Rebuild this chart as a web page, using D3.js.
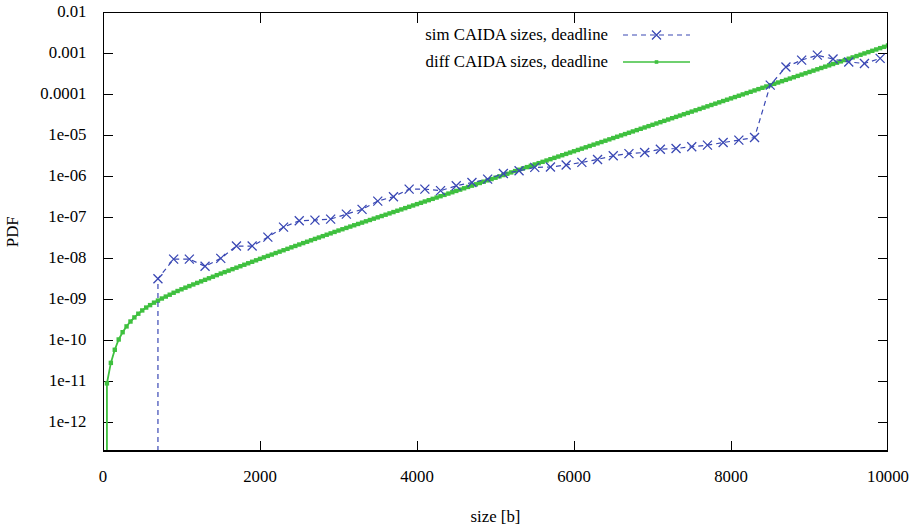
<!DOCTYPE html>
<html>
<head>
<meta charset="utf-8">
<script src="https://cdn.jsdelivr.net/npm/d3@7"></script>
<style>
  html, body { margin: 0; padding: 0; background: #fff; }
  svg { display: block; font-family: "Liberation Serif", "Times New Roman", serif; }
</style>
</head>
<body>
<svg id="chart" width="914" height="528"></svg>
<script>
// ---- data ----
const xTicks = [0, 2000, 4000, 6000, 8000, 10000];
const yTicks = [1e-2, 1e-3, 1e-4, 1e-5, 1e-6, 1e-7, 1e-8, 1e-9, 1e-10, 1e-11, 1e-12];
const yTickLabels = ["0.01", "0.001", "0.0001", "1e-05", "1e-06", "1e-07", "1e-08", "1e-09", "1e-10", "1e-11", "1e-12"];
const seriesNames = ["sim CAIDA sizes, deadline", "diff CAIDA sizes, deadline"];

const simX = [700, 900, 1100, 1300, 1500, 1700, 1900, 2100, 2300, 2500, 2700, 2900, 3100, 3300, 3500, 3700,
  3900, 4100, 4300, 4500, 4700, 4900, 5100, 5300, 5500, 5700, 5900, 6100, 6300, 6500, 6700, 6900, 7100,
  7300, 7500, 7700, 7900, 8100, 8300, 8500, 8700, 8900, 9100, 9300, 9500, 9700, 9900];
const simY = [3.2e-9, 9.6e-9, 9.6e-9, 6.4e-9, 1.0e-8, 2.0e-8, 2.0e-8, 3.3e-8, 5.8e-8, 8.3e-8, 8.6e-8, 9.1e-8,
  1.2e-7, 1.57e-7, 2.5e-7, 3.2e-7, 4.9e-7, 4.9e-7, 4.5e-7, 5.9e-7, 7.1e-7, 8.6e-7, 1.18e-6, 1.37e-6,
  1.66e-6, 1.7e-6, 1.9e-6, 2.2e-6, 2.6e-6, 3.2e-6, 3.6e-6, 3.85e-6, 4.6e-6, 4.8e-6, 5.3e-6, 5.8e-6,
  6.7e-6, 7.7e-6, 8.9e-6, 1.69e-4, 4.7e-4, 6.9e-4, 9.1e-4, 7.3e-4, 6.2e-4, 5.7e-4, 7.6e-4];

const diffX = d3.range(50, 10001, 50);
const diffY = [
  8.91e-12, 2.82e-11, 5.89e-11, 1.05e-10, 1.58e-10, 2.19e-10, 2.88e-10, 3.63e-10, 4.47e-10, 5.37e-10,
  6.31e-10, 7.24e-10, 8.32e-10, 9.33e-10, 1.05e-9, 1.17e-9, 1.30e-9, 1.45e-9, 1.60e-9, 1.76e-9,
  1.93e-9, 2.11e-9, 2.31e-9, 2.52e-9, 2.75e-9, 3.00e-9, 3.27e-9, 3.57e-9, 3.90e-9, 4.26e-9,
  4.62e-9, 5.02e-9, 5.46e-9, 5.93e-9, 6.44e-9, 7.00e-9, 7.60e-9, 8.26e-9, 8.97e-9, 9.75e-9,
  1.06e-8, 1.15e-8, 1.24e-8, 1.35e-8, 1.46e-8, 1.58e-8, 1.71e-8, 1.86e-8, 2.01e-8, 2.18e-8,
  2.36e-8, 2.55e-8, 2.76e-8, 2.99e-8, 3.23e-8, 3.49e-8, 3.78e-8, 4.08e-8, 4.42e-8, 4.78e-8,
  5.14e-8, 5.54e-8, 5.97e-8, 6.43e-8, 6.92e-8, 7.46e-8, 8.03e-8, 8.65e-8, 9.32e-8,
  1.003e-7, 1.080e-7, 1.163e-7, 1.253e-7, 1.350e-7, 1.454e-7, 1.566e-7, 1.687e-7, 1.817e-7, 1.957e-7,
  2.108e-7, 2.270e-7, 2.445e-7, 2.633e-7, 2.836e-7, 3.055e-7, 3.291e-7, 3.544e-7, 3.817e-7, 4.111e-7,
  4.428e-7, 4.770e-7, 5.137e-7, 5.534e-7, 5.960e-7, 6.420e-7, 6.914e-7, 7.447e-7, 8.021e-7, 8.640e-7, 9.306e-7,
  1.003e-6, 1.080e-6, 1.163e-6, 1.253e-6, 1.350e-6, 1.454e-6, 1.566e-6, 1.687e-6, 1.817e-6, 1.957e-6,
  2.108e-6, 2.270e-6, 2.445e-6, 2.633e-6, 2.836e-6, 3.055e-6, 3.291e-6, 3.544e-6, 3.817e-6, 4.111e-6,
  4.428e-6, 4.770e-6, 5.137e-6, 5.534e-6, 5.960e-6, 6.420e-6, 6.914e-6, 7.447e-6, 8.021e-6, 8.640e-6, 9.306e-6,
  1.003e-5, 1.080e-5, 1.163e-5, 1.253e-5, 1.350e-5, 1.454e-5, 1.566e-5, 1.687e-5, 1.817e-5, 1.957e-5,
  2.108e-5, 2.270e-5, 2.445e-5, 2.633e-5, 2.836e-5, 3.055e-5, 3.291e-5, 3.544e-5, 3.817e-5, 4.111e-5,
  4.428e-5, 4.770e-5, 5.137e-5, 5.534e-5, 5.960e-5, 6.420e-5, 6.914e-5, 7.447e-5, 8.021e-5, 8.640e-5, 9.306e-5,
  1.003e-4, 1.080e-4, 1.163e-4, 1.253e-4, 1.350e-4, 1.454e-4, 1.566e-4, 1.687e-4, 1.817e-4, 1.957e-4,
  2.108e-4, 2.270e-4, 2.445e-4, 2.633e-4, 2.836e-4, 3.055e-4, 3.291e-4, 3.544e-4, 3.817e-4, 4.111e-4,
  4.428e-4, 4.770e-4, 5.137e-4, 5.534e-4, 5.960e-4, 6.420e-4, 6.914e-4, 7.447e-4, 8.021e-4, 8.640e-4, 9.306e-4,
  1.003e-3, 1.080e-3, 1.163e-3, 1.253e-3, 1.350e-3, 1.454e-3, 1.566e-3
];

// ---- layout ----
const svg = d3.select("#chart");
const L = 103, R = 888, T = 12.5, B = 451;
const yMin = Math.pow(10, -12.7), yMax = 1e-2;
const x = d3.scaleLinear().domain([0, 10000]).range([L, R]);
const y = d3.scaleLog().domain([yMin, yMax]).range([B, T]);

const blue = "#3a48b4";
const green = "#3fc03f";
const fontSize = 16.8;

svg.append("defs").append("clipPath").attr("id", "plotclip")
  .append("rect").attr("x", L).attr("y", T).attr("width", R - L).attr("height", B - T);

// ticks (inward, both sides)
const tickLen = 10;
const tg = svg.append("g").attr("stroke", "#000").attr("stroke-width", 1).attr("shape-rendering", "crispEdges");
yTicks.forEach(v => {
  const yy = Math.round(y(v)) + 0.5;
  if (v < yMax) {
    tg.append("line").attr("x1", L).attr("x2", L + tickLen).attr("y1", yy).attr("y2", yy);
    tg.append("line").attr("x1", R - tickLen).attr("x2", R).attr("y1", yy).attr("y2", yy);
  }
});
xTicks.forEach(v => {
  const xx = Math.round(x(v)) + 0.5;
  if (v > 0 && v < 10000) {
    tg.append("line").attr("x1", xx).attr("x2", xx).attr("y1", B).attr("y2", B - tickLen);
    tg.append("line").attr("x1", xx).attr("x2", xx).attr("y1", T).attr("y2", T + tickLen);
  }
});

// tick labels
const yl = svg.append("g").attr("font-size", fontSize).attr("fill", "#000").attr("text-anchor", "end");
yTicks.forEach((v, i) => {
  yl.append("text").attr("x", 86.5).attr("y", y(v) + 4.5).text(yTickLabels[i]);
});
const xl = svg.append("g").attr("font-size", fontSize).attr("fill", "#000").attr("text-anchor", "middle");
xTicks.forEach(v => {
  xl.append("text").attr("x", x(v)).attr("y", 482).text(String(v));
});

// axis titles
svg.append("text").attr("x", (L + R) / 2).attr("y", 522).attr("text-anchor", "middle")
  .attr("font-size", fontSize).text("size [b]");
svg.append("text").attr("transform", `translate(18,${(T + B) / 2}) rotate(-90)`)
  .attr("text-anchor", "middle").attr("font-size", fontSize).text("PDF");

// plot
const plot = svg.append("g").attr("clip-path", "url(#plotclip)");
const line = d3.line().x(d => x(d[0])).y(d => y(d[1]));

// diff series (green) — drop from the bottom edge to the first point
const diffPts = diffX.map((v, i) => [v, diffY[i]]);
plot.append("path")
  .datum([[diffX[0], yMin], ...diffPts])
  .attr("fill", "none").attr("stroke", green).attr("stroke-width", 1.8)
  .attr("d", line);
const ms = 4.4;
plot.append("g").selectAll("rect").data(diffPts).join("rect")
  .attr("x", d => x(d[0]) - ms / 2).attr("y", d => y(d[1]) - ms / 2)
  .attr("width", ms).attr("height", ms).attr("fill", green);

// sim series (blue dashed with x markers)
const simPts = simX.map((v, i) => [v, simY[i]]);
plot.append("path")
  .datum([[simX[0], yMin], ...simPts])
  .attr("fill", "none").attr("stroke", blue).attr("stroke-width", 1.2)
  .attr("stroke-dasharray", "5,4")
  .attr("d", line);
const cs = 4.5;
const crossPath = (cx, cy) => `M${cx - cs},${cy - cs}L${cx + cs},${cy + cs}M${cx - cs},${cy + cs}L${cx + cs},${cy - cs}`;
plot.append("g").selectAll("path").data(simPts).join("path")
  .attr("d", d => crossPath(x(d[0]), y(d[1])))
  .attr("stroke", blue).attr("stroke-width", 1.3).attr("fill", "none");

// frame
svg.append("rect").attr("x", L + 0.5).attr("y", T).attr("width", R - L - 1).attr("height", B - T)
  .attr("fill", "none").attr("stroke", "#000").attr("stroke-width", 1.3).attr("shape-rendering", "crispEdges");

// legend
const leg = svg.append("g").attr("font-size", fontSize);
const rows = [35, 62];
leg.append("text").attr("x", 608).attr("y", rows[0] + 5).attr("text-anchor", "end").text(seriesNames[0]);
leg.append("text").attr("x", 608).attr("y", rows[1] + 5).attr("text-anchor", "end").text(seriesNames[1]);
leg.append("line").attr("x1", 623).attr("x2", 690).attr("y1", rows[0]).attr("y2", rows[0])
  .attr("stroke", blue).attr("stroke-width", 1.2).attr("stroke-dasharray", "5,4");
leg.append("path").attr("d", crossPath(656.5, rows[0])).attr("stroke", blue).attr("stroke-width", 1.3);
leg.append("line").attr("x1", 623).attr("x2", 690).attr("y1", rows[1]).attr("y2", rows[1])
  .attr("stroke", green).attr("stroke-width", 1.6);
leg.append("rect").attr("x", 656.5 - 1.8).attr("y", rows[1] - 1.8).attr("width", 3.6).attr("height", 3.6).attr("fill", green);
</script>
</body>
</html>
